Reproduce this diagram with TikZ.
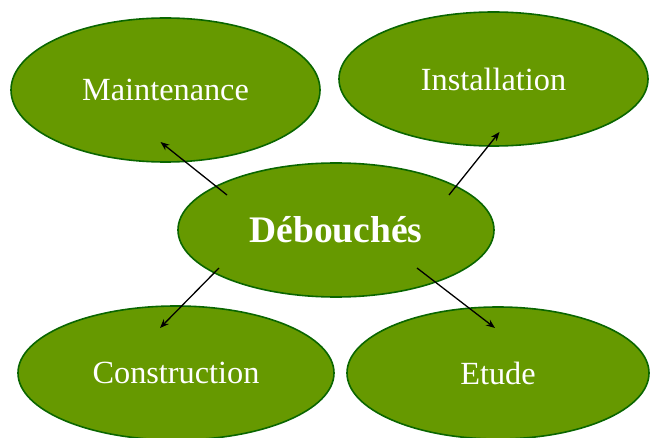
\documentclass[tikz,border=0pt]{standalone}
\usepackage{fontspec}
\setmainfont{Liberation Serif}
\usetikzlibrary{shapes.geometric,arrows.meta,calc}
\definecolor{fillgreen}{HTML}{669900}
\definecolor{edgegreen}{HTML}{0A6600}
\tikzset{
  blob/.style={ellipse, draw=edgegreen, line width=1.6pt, fill=fillgreen, text=white,
    inner sep=0pt, font=\fontsize{32.3}{38}\selectfont},
  link/.style={-{Stealth[length=9pt,width=7pt]}, line width=1.3pt, black}
}
\begin{document}
\begin{tikzpicture}[x=1pt,y=-1pt]
\useasboundingbox (0,0) rectangle (650,438);
\node[blob, minimum width=309pt, minimum height=144pt] (mai) at (165.5,90) {Maintenance};
\node[blob, minimum width=309pt, minimum height=134pt] (ins) at (493.5,79) {Installation};
\node[blob, minimum width=316pt, minimum height=134pt] (con) at (176,373) {Construction};
\node[blob, minimum width=302pt, minimum height=132pt] (etu) at (498,373) {Etude};
\node[blob, minimum width=316pt, minimum height=134pt, font=\fontsize{37.5}{42}\selectfont\bfseries] (deb) at (336,230) {Débouchés};
\draw[link] ($(deb.center)+(-109,-35)$) -- ($(mai.center)+(-5,52)$);
\draw[link] ($(deb.center)+(113,-35)$) -- ($(ins.center)+(6,53)$);
\draw[link] ($(deb.center)+(-117,38)$) -- ($(con.center)+(-16,-45)$);
\draw[link] ($(deb.center)+(81,38)$) -- ($(etu.center)+(-3,-45)$);
\end{tikzpicture}
\end{document}
